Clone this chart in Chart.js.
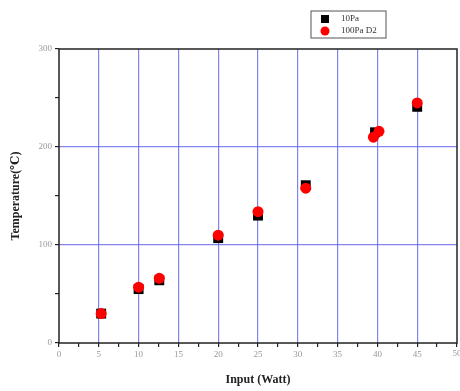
<!DOCTYPE html>
<html>
<head>
<meta charset="utf-8">
<script src="https://cdn.jsdelivr.net/npm/chart.js@4"></script>
<style>
  html, body { margin: 0; padding: 0; background: #fff; }
  #wrap { width: 460px; height: 391px; }
</style>
</head>
<body>
<div id="wrap"><canvas id="chart" width="460" height="391"></canvas></div>
<script>
// data
const xLowP = [5.3, 10, 12.6, 20, 25, 31, 39.7, 45];
const yLowP = [30, 55, 64, 107, 130, 161, 215, 241];
const xHighP = [5.3, 10, 12.6, 20, 25, 31, 39.5, 40.2, 45];
const yHighP = [30, 57, 66, 110, 134, 158, 210, 216, 245];
const seriesNames = ["10Pa", "100Pa D2"];
const xTickLabels = ["0", "5", "10", "15", "20", "25", "30", "35", "40", "45", "50"];
const yTickLabels = ["0", "100", "200", "300"];

const BLUE = "rgba(90, 90, 230, 0.75)";
const SERIF = "'Liberation Serif', 'DejaVu Serif', serif";
const TICK_GREY = "#999";

function toPoints(xs, ys) {
  return xs.map((x, i) => ({ x: x, y: ys[i] }));
}

// frame around the plot, last x label (so it can hang off the edge) + boxed legend
const framePlugin = {
  id: "frame",
  afterDraw(chart) {
    const ctx = chart.ctx;
    const a = chart.chartArea;
    ctx.save();
    ctx.strokeStyle = "#222";
    ctx.lineWidth = 1.5;
    ctx.strokeRect(a.left, a.top, a.right - a.left, a.bottom - a.top);

    const last = xTickLabels.length - 1;
    ctx.fillStyle = TICK_GREY;
    ctx.font = "9px " + SERIF;
    ctx.textAlign = "center";
    ctx.textBaseline = "middle";
    ctx.fillText(xTickLabels[last], chart.scales.x.getPixelForValue(last * 5), a.bottom + 11);

    // legend
    const lx = 311, ly = 11, lw = 75, lh = 27;
    ctx.lineWidth = 1;
    ctx.strokeStyle = "#555";
    ctx.strokeRect(lx, ly, lw, lh);
    ctx.fillStyle = "#000";
    ctx.fillRect(lx + 10, ly + 4, 8, 8);
    ctx.fillStyle = "#f00";
    ctx.beginPath();
    ctx.arc(lx + 14, ly + 20, 4.5, 0, Math.PI * 2);
    ctx.fill();
    ctx.fillStyle = "#333";
    ctx.textAlign = "left";
    ctx.fillText(seriesNames[0], lx + 30, ly + 8);
    ctx.fillText(seriesNames[1], lx + 30, ly + 20);
    ctx.restore();
  }
};

new Chart(document.getElementById("chart"), {
  type: "scatter",
  data: {
    datasets: [
      {
        label: seriesNames[0],
        data: toPoints(xLowP, yLowP),
        pointStyle: "rect",
        pointRadius: 7,
        backgroundColor: "#000",
        borderColor: "#000",
        borderWidth: 0,
        order: 2,
      },
      {
        label: seriesNames[1],
        data: toPoints(xHighP, yHighP),
        pointStyle: "circle",
        pointRadius: 5.5,
        backgroundColor: "#f00",
        borderColor: "#f00",
        borderWidth: 0,
        order: 1,
      },
    ],
  },
  options: {
    responsive: false,
    animation: false,
    layout: { autoPadding: false, padding: { top: 49, right: 3, left: 0, bottom: 0 } },
    plugins: {
      legend: { display: false },
      tooltip: { enabled: false },
    },
    scales: {
      x: {
        type: "linear",
        min: 0,
        max: 50,
        afterBuildTicks(scale) {
          const t = [];
          for (let v = 0; v <= 50; v += 2.5) t.push({ value: v });
          scale.ticks = t;
        },
        afterFit(scale) { scale.height = 48; },
        ticks: {
          autoSkip: false,
          maxRotation: 0,
          color: TICK_GREY,
          font: { family: SERIF, size: 9 },
          padding: 2,
          callback(v) {
            // 50 is drawn by the frame plugin
            return v % 5 === 0 && v < 50 ? xTickLabels[v / 5] : "";
          },
        },
        grid: {
          color(c) {
            const v = c.tick ? c.tick.value : 0;
            return v % 5 === 0 && v > 0 && v < 50 ? BLUE : "rgba(0,0,0,0)";
          },
          lineWidth: 1.2,
          tickColor: "#222",
          tickLength: 4,
        },
        border: { display: false },
        title: {
          display: true,
          text: "Input (Watt)",
          color: "#222",
          font: { family: SERIF, size: 12, weight: "bold" },
          padding: { top: 8 },
        },
      },
      y: {
        type: "linear",
        min: 0,
        max: 300,
        afterBuildTicks(scale) {
          const t = [];
          for (let v = 0; v <= 300; v += 50) t.push({ value: v });
          scale.ticks = t;
        },
        afterFit(scale) { scale.width = 59; },
        ticks: {
          autoSkip: false,
          color: TICK_GREY,
          font: { family: SERIF, size: 9 },
          padding: 3,
          callback(v) {
            return v % 100 === 0 ? yTickLabels[v / 100] : "";
          },
        },
        grid: {
          color(c) {
            const v = c.tick ? c.tick.value : 0;
            return v % 100 === 0 && v > 0 && v < 300 ? BLUE : "rgba(0,0,0,0)";
          },
          lineWidth: 1.2,
          tickColor: "#222",
          tickLength: 4,
        },
        border: { display: false },
        title: {
          display: true,
          text: "Temperature(℃)",
          color: "#222",
          font: { family: SERIF, size: 12, weight: "bold" },
          padding: { top: 9, bottom: 2 },
        },
      },
    },
  },
  plugins: [framePlugin],
});
</script>
</body>
</html>
